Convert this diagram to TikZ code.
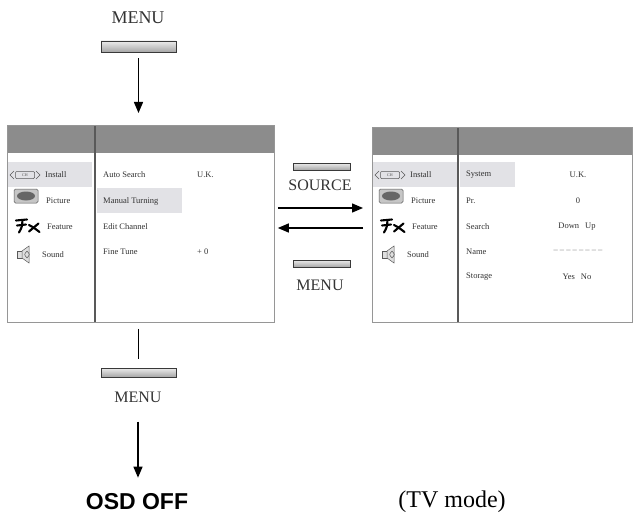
\documentclass[tikz,border=0pt]{standalone}
\usepackage{fontspec}
\setmainfont{Liberation Serif}
\newfontfamily\osdfont{Liberation Sans}
\usetikzlibrary{arrows.meta}
\definecolor{hdr}{RGB}{140,140,140}
\definecolor{hl}{RGB}{226,226,230}
\definecolor{txt}{RGB}{50,50,50}
\definecolor{frame}{RGB}{150,150,150}
\tikzset{
 pframe/.style={draw=frame, line width=0.8pt, inner sep=0pt, anchor=north west},
 mtxt/.style={font=\fontsize{8.5}{9}\selectfont, text=txt, inner sep=0pt, anchor=west},
 vtxt/.style={font=\fontsize{8.5}{9}\selectfont, text=txt, inner sep=0pt},
 btn/.style={draw=gray!45!black, line width=0.6pt, top color=gray!15, bottom color=gray!70, minimum width=75pt, minimum height=10pt, inner sep=0pt},
 keylbl/.style={font=\fontsize{16}{18}\selectfont, text=black!80, inner sep=0pt},
 arr/.style={line width=1.4pt, -{Triangle[length=11pt,width=9pt]}},
 divline/.style={draw=black!65, line width=1.4pt},
 iconline/.style={black!65, line width=0.5pt},
 fxline/.style={black, line width=2.1pt, line cap=round},
}
\newcommand\sidemenu{%
  \fill[hl] (7,162) rectangle (92,187);
  % install icon
  \draw[iconline] (14,171) -- (10,175) -- (14,179);
  \draw[iconline] (36,171) -- (40,175) -- (36,179);
  \draw[iconline, rounded corners=1pt] (15.5,171.5) rectangle (34.5,178.5);
  \node[inner sep=0pt, font=\fontsize{4}{4}\selectfont, text=black!70] (chtxt) at (25,175) {CH};
  % picture icon
  \draw[iconline, fill=gray!45, rounded corners=1.5pt] (14,189) rectangle (38,203);
  \fill[black!60] (26,196) ellipse (9pt and 4.5pt);
  % feature icon
  \draw[fxline] (16,220.5) -- (27,219.5);
  \draw[fxline] (17,225.5) -- (26,224.5);
  \draw[fxline] (22.5,220) .. controls (22,227) .. (19,232.5);
  \draw[fxline] (29,225) .. controls (33,227) .. (39.5,232);
  \draw[fxline] (38.5,223.5) .. controls (34,227) .. (29,231.5);
  % sound icon
  \draw[iconline, fill=gray!25] (17,251) rectangle (22,258);
  \draw[iconline, fill=gray!25] (22,251) -- (29,246) -- (29,263) -- (22,258) -- cycle;
  \draw[iconline] (27,251) .. controls (24,254.5) .. (27,258);
  \draw[iconline] (27,251) .. controls (30,254.5) .. (27,258);
  \node[mtxt] (install) at (45,175) {Install};
  \node[mtxt] (picture) at (46,201) {Picture};
  \node[mtxt] (feature) at (47,227) {Feature};
  \node[mtxt] (sound) at (42,255) {Sound};
}
\begin{document}
\begin{tikzpicture}[x=1pt,y=-1pt]
\useasboundingbox (0,0) rectangle (634,516);
% ---------- top ----------
\node[keylbl, font=\fontsize{18}{20}\selectfont] (tmenu) at (138,18) {MENU};
\node[btn, minimum height=11pt] (btop) at (138.5,46.5) {};
% ---------- left panel ----------
\fill[white] (7,125) rectangle (274,322);
\fill[hdr] (7,125) rectangle (274,153);
\begin{scope}[name prefix=L-]
\sidemenu
\end{scope}
\fill[hl] (97,188) rectangle (182,213);
\node[mtxt] (autosearch) at (103,175) {Auto Search};
\node[mtxt] (uk1) at (197,175) {U.K.};
\node[mtxt] (manual) at (103,201) {Manual Turning};
\node[mtxt] (edit) at (103,227) {Edit Channel};
\node[mtxt] (fine) at (103,252) {Fine Tune};
\node[mtxt] (plus0) at (197,252) {+ 0};
\draw[divline] (95,125) -- (95,322);
\node[pframe, minimum width=267pt, minimum height=197pt] (lp) at (7,125) {};
% ---------- right panel ----------
\fill[white] (372,127) rectangle (632,322);
\fill[hdr] (372,127) rectangle (632,155);
\begin{scope}[name prefix=R-, xshift=365pt]
\sidemenu
\end{scope}
\fill[hl] (460,162) rectangle (515,187);
\node[mtxt] (system) at (466,175) {System};
\node[mtxt] (pr) at (466,201) {Pr.};
\node[mtxt] (search) at (466,227) {Search};
\node[mtxt] (name) at (466,252) {Name};
\node[mtxt] (storage) at (466,277) {Storage};
\node[vtxt] (uk2) at (578,175) {U.K.};
\node[vtxt] (zero) at (578,201) {0};
\node[vtxt] (downup) at (577,227) {Down\hspace{6pt}Up};
\node[vtxt, text=txt!70] (dashes) at (578,251) {-- -- -- -- -- -- -- --};
\node[vtxt] (yesno) at (577,277) {Yes\hspace{6pt}No};
\draw[divline] (458,127) -- (458,322);
\node[pframe, minimum width=260pt, minimum height=195pt] (rp) at (372,127) {};
% ---------- middle ----------
\node[btn, minimum width=57pt, minimum height=7pt] (bsrc) at (321.5,166.5) {};
\node[keylbl] (source) at (320,185) {SOURCE};
\node[btn, minimum width=57pt, minimum height=7pt] (bmid) at (321.5,263.5) {};
\node[keylbl] (mmenu) at (320,285) {MENU};
\draw[arr, shorten <=3pt, shorten >=9pt] (lp.east |- 0,208) -- (rp.west |- 0,208);
\draw[arr, shorten <=9pt, shorten >=3pt] (rp.west |- 0,228) -- (lp.east |- 0,228);
% ---------- bottom ----------
\draw[arr, shorten <=6pt, shorten >=12pt] (btop.south) -- (btop.south |- lp.north);
\node[btn, minimum height=9pt] (bbot) at (138.5,372.5) {};
\draw[line width=1.4pt, shorten <=6pt, shorten >=9pt] (bbot.north |- lp.south) -- (bbot.north);
\node[keylbl] (bmenu) at (138,397) {MENU};
\node[inner sep=0pt, font=\osdfont\bfseries\fontsize{23}{26}\selectfont] (osd) at (137,502) {OSD OFF};
\draw[arr, shorten <=19pt, shorten >=16pt] (bmenu.south) -- (bmenu.south |- osd.north);
\node[inner sep=0pt, font=\fontsize{24}{28}\selectfont] (tvmode) at (452,502) {(TV mode)};
\end{tikzpicture}
\end{document}
